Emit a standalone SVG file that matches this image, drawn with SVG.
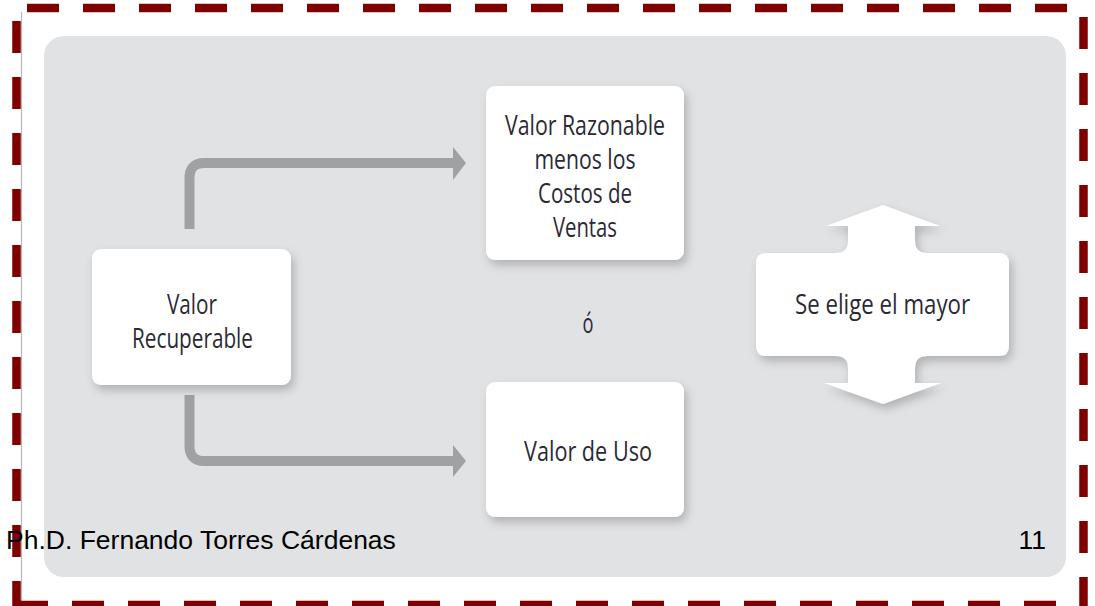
<svg xmlns="http://www.w3.org/2000/svg" width="1095" height="606" viewBox="0 0 1095 606">
  <defs>
    <style>
      .border { stroke: #800000; stroke-width: 8.5; stroke-dasharray: 32 24; fill: none; }
      .box { fill: #ffffff; filter: url(#shadow); }
      .lbl { font-family: "Open Sans", "Liberation Sans", sans-serif; font-size: 26.5px; fill: #2a2a36; text-anchor: middle; }
      .conn { fill: none; stroke: #a0a1a4; stroke-width: 10; }
      .head { fill: #a0a1a4; }
      .foot { font-family: "Liberation Sans", Arial, sans-serif; font-size: 26.5px; fill: #000000; }
    </style>
    <filter id="shadow" x="-20%" y="-20%" width="150%" height="150%">
      <feDropShadow dx="3" dy="5" stdDeviation="5" flood-color="#000000" flood-opacity="0.22"/>
    </filter>
  </defs>

  <rect x="0" y="0" width="1095" height="606" fill="#ffffff"/>

  <!-- grey panel -->
  <rect x="44" y="36" width="1022" height="541" rx="20" ry="20" fill="#e1e2e4"/>

  <!-- frame -->
  <g id="frame">
    <line x1="21.5" y1="12" x2="21.5" y2="602" stroke="#b5b5b9" stroke-width="1.2"/>
    <line class="border" x1="27" y1="8" x2="1075" y2="8"/>
    <line class="border" x1="16.5" y1="21" x2="16.5" y2="612"/>
    <line class="border" x1="16" y1="605" x2="1075" y2="605"/>
    <line class="border" x1="1083.5" y1="17" x2="1083.5" y2="612"/>
  </g>

  <!-- connectors -->
  <g id="connectors">
    <path class="conn" d="M189.5 229 V178 Q189.5 163 204.5 163 H454"/>
    <polygon class="head" points="453,147 466,163 453,180"/>
    <path class="conn" d="M189.5 395 V446 Q189.5 461 204.5 461 H454"/>
    <polygon class="head" points="453,445 466,461 453,477"/>
  </g>

  <g id="node-recuperable">
    <rect class="box" x="92" y="249" width="199" height="136" rx="9" ry="9"/>
    <text class="lbl" x="192" y="314" textLength="50" lengthAdjust="spacingAndGlyphs">Valor</text>
    <text class="lbl" x="192.5" y="348" textLength="121" lengthAdjust="spacingAndGlyphs">Recuperable</text>
  </g>

  <g id="node-razonable">
    <rect class="box" x="486" y="86" width="198" height="174" rx="9" ry="9"/>
    <text class="lbl" x="585" y="135" textLength="160" lengthAdjust="spacingAndGlyphs">Valor Razonable</text>
    <text class="lbl" x="585" y="169" textLength="101" lengthAdjust="spacingAndGlyphs">menos los</text>
    <text class="lbl" x="585" y="203" textLength="94" lengthAdjust="spacingAndGlyphs">Costos de</text>
    <text class="lbl" x="585" y="237" textLength="64" lengthAdjust="spacingAndGlyphs">Ventas</text>
  </g>

  <g id="or-label">
    <text class="lbl" x="588" y="333" textLength="11" lengthAdjust="spacingAndGlyphs">ó</text>
  </g>

  <g id="node-uso">
    <rect class="box" x="486" y="382" width="198" height="135" rx="9" ry="9"/>
    <text class="lbl" x="588" y="461" textLength="128" lengthAdjust="spacingAndGlyphs">Valor de Uso</text>
  </g>

  <g id="node-mayor">
    <path class="box" d="M883 205 L940 226 L915 226 L915 241 Q915 253 927 253 L999 253 Q1009 253 1009 263 L1009 346 Q1009 356 999 356 L927 356 Q915 356 915 368 L915 383 L941 383 L883 404 L824 383 L848 383 L848 368 Q848 356 836 356 L766 356 Q756 356 756 346 L756 263 Q756 253 766 253 L836 253 Q848 253 848 241 L848 226 L826 226 Z"/>
    <text class="lbl" x="882.5" y="314" textLength="175" lengthAdjust="spacingAndGlyphs">Se elige el mayor</text>
  </g>

  <g id="footer">
    <text class="foot" x="6" y="549">Ph.D. Fernando Torres Cárdenas</text>
    <text class="foot" x="1046" y="549" text-anchor="end">11</text>
  </g>
</svg>
